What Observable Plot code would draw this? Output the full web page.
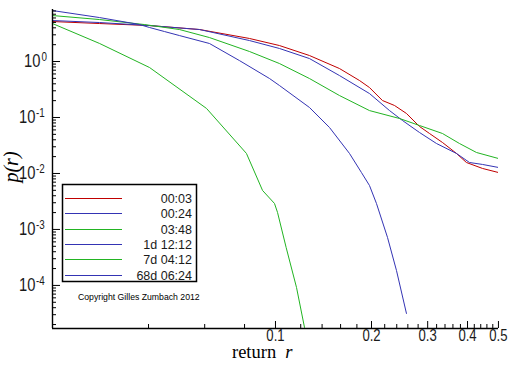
<!DOCTYPE html>
<html><head><meta charset="utf-8">
<script src="https://cdn.jsdelivr.net/npm/d3@7"></script>
<script src="https://cdn.jsdelivr.net/npm/@observablehq/plot@0.6"></script>
<style>
body{margin:0;background:#fff;}
#wrap{position:relative;width:512px;height:366px;overflow:hidden;background:#fff;}
#wrap svg.over{position:absolute;left:0;top:0;pointer-events:none;}
</style></head><body><div id="wrap"></div>
<script>
// ---- data ----
const seriesNames = ["00:03", "00:24", "03:48", "1d 12:12", "7d 04:12", "68d 06:24"];
const seriesColors = ["#c00000", "#3434b4", "#22b422", "#3434b4", "#22b422", "#3434b4"];

const r_0003 = [0.02, 0.0281, 0.0403, 0.0578, 0.0829, 0.1029, 0.1278, 0.1587, 0.1834, 0.1971, 0.2165, 0.2361, 0.2574, 0.2828, 0.304, 0.3338, 0.3693, 0.3969, 0.4456, 0.5];
const p_0003 = [5.18, 4.77, 4.39, 3.73, 2.58, 1.93, 1.28, 0.75, 0.458, 0.343, 0.201, 0.164, 0.118, 0.0691, 0.0518, 0.0358, 0.0228, 0.0157, 0.0123, 0.0104];

const r_0024 = [0.02, 0.0281, 0.0403, 0.0578, 0.0829, 0.1029, 0.1278, 0.1587, 0.1971, 0.2278, 0.2501, 0.2828, 0.3197, 0.3693, 0.4057, 0.4456, 0.5];
const p_0024 = [5.40, 4.97, 4.39, 3.73, 2.37, 1.71, 1.13, 0.562, 0.268, 0.133, 0.0884, 0.054, 0.0343, 0.0228, 0.0157, 0.0145, 0.0128];

const r_0348 = [0.02, 0.0281, 0.0388, 0.050, 0.0621, 0.0829, 0.1029, 0.1278, 0.1587, 0.1971, 0.2448, 0.2828, 0.3338, 0.3774, 0.4267, 0.5];
const p_0348 = [6.63, 5.62, 4.58, 3.73, 2.68, 1.51, 0.921, 0.497, 0.247, 0.133, 0.096, 0.072, 0.0518, 0.0343, 0.0237, 0.0185];

const r_1d1212 = [0.02, 0.0281, 0.0375, 0.0403, 0.0449, 0.050, 0.0621, 0.0771, 0.0958, 0.1029, 0.1278, 0.1477, 0.1706, 0.186, 0.1971, 0.2073, 0.2245, 0.2395, 0.2574];
const p_1d1212 = [8.14, 6.1, 4.58, 4.05, 3.43, 2.91, 2.10, 1.04, 0.497, 0.373, 0.151, 0.0663, 0.0228, 0.0104, 0.0061, 0.00291, 0.00072, 0.000185, 0.0000316];

const r_7d0412 = [0.02, 0.0281, 0.0403, 0.0608, 0.0811, 0.0911, 0.0993, 0.1015, 0.108, 0.1164, 0.1233];
const p_7d0412 = [4.77, 2.10, 0.781, 0.145, 0.0228, 0.00497, 0.00291, 0.00201, 0.000477, 0.0000921, 0.0000178];

const r_68d0624 = [];
const p_68d0624 = [];

const xDomain = [0.02, 0.5002];
const yDomain = [1.7e-5, 8.5];
const xMajor = [0.1, 0.2, 0.3, 0.4, 0.5];
const xMajorLabels = ["0.1", "0.2", "0.3", "0.4", "0.5"];
const xMinor = [0.04, 0.06, 0.08, 0.12, 0.14, 0.16, 0.18, 0.22, 0.24, 0.26, 0.28, 0.32, 0.34, 0.36, 0.38, 0.42, 0.44, 0.46, 0.48];
const yMajor = [1, 0.1, 0.01, 0.001, 0.0001];
const yExp = [0, -1, -2, -3, -4];
const yMinor = [];
for (const e of [-5, -4, -3, -2, -1, 0]) for (let m = 2; m <= 9; m++) { const v = m * Math.pow(10, e); if (v > yDomain[0] && v < yDomain[1]) yMinor.push(v); }

// ---- build tables ----
const seriesR = [r_0003, r_0024, r_0348, r_1d1212, r_7d0412, r_68d0624];
const seriesP = [p_0003, p_0024, p_0348, p_1d1212, p_7d0412, p_68d0624];
const rows = [];
seriesNames.forEach((name, i) => seriesR[i].forEach((r, j) => rows.push({series: name, r, p: seriesP[i][j]})));
const xLab = xMajor.map((v, i) => ({v, t: xMajorLabels[i]}));
const labels = yMajor.map((v, i) => ({v, e: yExp[i]}));

const sans = "'Liberation Sans',Arial,sans-serif";
const ink = "#1a1a1a";

const chart = Plot.plot({
  width: 512, height: 366,
  marginLeft: 52, marginRight: 14, marginTop: 9, marginBottom: 38,
  style: {background: "#fff", fontFamily: sans},
  x: {type: "log", domain: xDomain},
  y: {type: "log", domain: yDomain},
  color: {domain: seriesNames, range: seriesColors},
  marks: [
    Plot.line(rows, {x: "r", y: "p", z: "series", stroke: "series", strokeWidth: 1, clip: true}),
    Plot.ruleX([xDomain[0]], {stroke: "#000", strokeWidth: 1.4}),
    Plot.ruleY([yDomain[0]], {stroke: "#000", strokeWidth: 1.4}),
    Plot.axisY(yMajor, {anchor: "left", tickSize: -8, tickFormat: () => "", label: null}),
    Plot.axisY(yMinor, {anchor: "left", tickSize: -4, tickFormat: () => "", label: null}),
    Plot.axisX(xMajor, {anchor: "bottom", tickSize: -7, tickFormat: () => "", label: null}),
    Plot.axisX(xMinor, {anchor: "bottom", tickSize: -4, tickFormat: () => "", label: null}),
    Plot.text(xLab, {x: "v", text: "t", frameAnchor: "bottom", lineAnchor: "top", dy: 1, fontSize: 16, fontFamily: sans, fill: ink, className: "nar"}),
    Plot.text(labels.filter(d => d.e === 0), {y: "v", frameAnchor: "left", text: () => "10", dx: -12, textAnchor: "end", fontSize: 18, fontFamily: sans, fill: ink, className: "nar"}),
    Plot.text(labels.filter(d => d.e === 0), {y: "v", frameAnchor: "left", text: d => String(d.e), dx: -11, dy: -4, textAnchor: "start", fontSize: 12, fontFamily: sans, fill: ink, className: "nar"}),
    Plot.text(labels.filter(d => d.e < 0), {y: "v", frameAnchor: "left", text: () => "10", dx: -17, textAnchor: "end", fontSize: 18, fontFamily: sans, fill: ink, className: "nar"}),
    Plot.text(labels.filter(d => d.e < 0), {y: "v", frameAnchor: "left", text: d => String(d.e), dx: -16.5, dy: -4, textAnchor: "start", fontSize: 12, fontFamily: sans, fill: ink, className: "nar"})
  ]
});
const wrap = document.getElementById("wrap");
wrap.appendChild(chart);
// condense tick-label glyphs horizontally (narrow face of the reference)
d3.select(chart).selectAll(".nar text").each(function() {
  const t = this.getAttribute("transform") || "";
  this.setAttribute("transform", t + " scale(0.82,1)");
});

// ---- overlay: legend, axis titles, copyright ----
const svg = d3.select(wrap).append("svg").attr("class", "over").attr("width", 512).attr("height", 366);
svg.append("rect").attr("x", 62.5).attr("y", 184.5).attr("width", 134).attr("height", 97)
  .attr("fill", "#fff").attr("stroke", "#000").attr("stroke-width", 1.5);
seriesNames.forEach((name, i) => {
  const y = Math.round(198 + i * 15.3) + 0.5;
  svg.append("line").attr("x1", 65).attr("x2", 122).attr("y1", y).attr("y2", y)
    .attr("stroke", seriesColors[i]).attr("stroke-width", 1);
  svg.append("text").attr("x", 192).attr("y", y).attr("text-anchor", "end").attr("dominant-baseline", "central")
    .attr("font-family", sans).attr("font-size", 12.5).attr("fill", ink).text(name);
});
svg.append("text").attr("x", 78).attr("y", 297).attr("dominant-baseline", "central")
  .attr("font-family", sans).attr("font-size", 8.7).attr("fill", "#000")
  .text("Copyright Gilles Zumbach 2012");
const xl = svg.append("text").attr("x", 232).attr("y", 357.5)
  .attr("font-family", "'Liberation Serif','Times New Roman',serif").attr("font-size", 18.5).attr("fill", "#000");
xl.append("tspan").text("return");
xl.append("tspan").attr("dx", 9).attr("font-style", "italic").text("r");
svg.append("text").attr("transform", "translate(11,167) rotate(-90)").attr("text-anchor", "middle")
  .attr("dominant-baseline", "central").attr("font-family", "'Liberation Serif','Times New Roman',serif")
  .attr("font-style", "italic").attr("font-size", 20).attr("fill", "#000").text("p(r)");
</script></body></html>
